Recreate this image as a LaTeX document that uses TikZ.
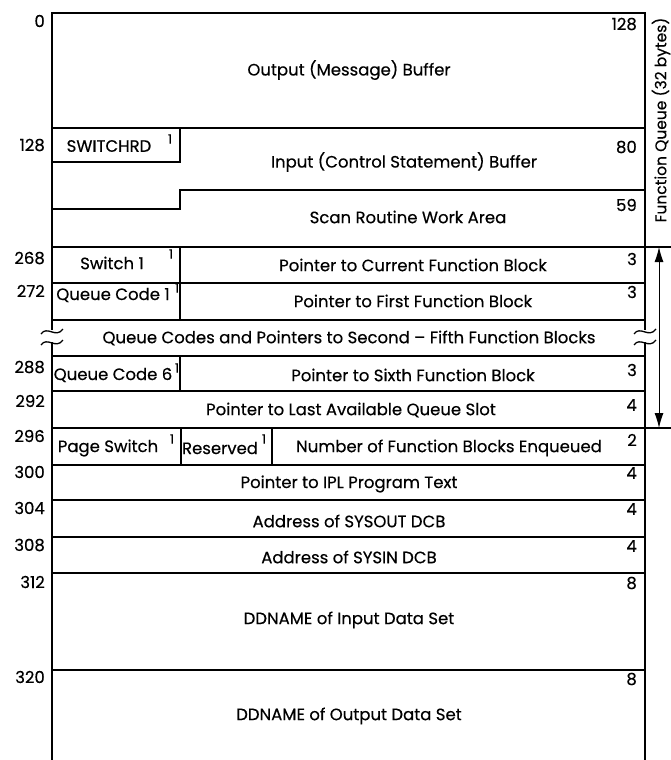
\documentclass[tikz,border=0pt]{standalone}
\usepackage{fontspec}
\setmainfont{Poppins}[FakeBold=0.4]
\usetikzlibrary{arrows.meta}
\begin{document}
\begin{tikzpicture}[x=1pt,y=-1pt,
  frame/.style={line width=1.7pt},
  inner/.style={line width=1.3pt},
  lbl/.style={font=\fontsize{16.5}{18}\selectfont, inner sep=0pt},
  off/.style={lbl, anchor=east},
  cnt/.style={lbl, anchor=east},
  supone/.style={font=\fontsize{13}{14}\selectfont, inner sep=0pt},
  tilde/.style={line width=1.3pt}
  ]
\useasboundingbox (0,0) rectangle (671,760);
\fill[white] (0,0) rectangle (671,760);
% outer frame with break
\draw[frame] (52,330) -- (52,13) -- (645,13) -- (645,330);
\draw[frame] (52,342) -- (52,760);
\draw[frame] (645,342) -- (645,760);
% break tildes
\draw[tilde] (41,334) .. controls (47,325) and (56,339) .. (63,329);
\draw[tilde] (41,345) .. controls (47,336) and (56,350) .. (63,340);
\draw[tilde] (634,334) .. controls (640,325) and (649,339) .. (656,329);
\draw[tilde] (634,345) .. controls (640,336) and (649,350) .. (656,340);
% horizontal rules and dividers
\draw[inner] (52,128) -- (645,128);
\draw[inner] (180,128) -- (180,162) -- (52,162);
\draw[inner] (52,209) -- (180,209) -- (180,190) -- (645,190);
\draw[inner] (52,247) -- (671,247);
\draw[inner] (180,247) -- (180,320);
\draw[inner] (52,283) -- (645,283);
\draw[inner] (52,320) -- (645,320);
\draw[inner] (52,356) -- (645,356);
\draw[inner] (180,356) -- (180,391);
\draw[inner] (52,391) -- (645,391);
\draw[inner] (52,428) -- (671,428);
\draw[inner] (181,428) -- (181,465);
\draw[inner] (272,428) -- (272,465);
\draw[inner] (52,465) -- (645,465);
\draw[inner] (52,500) -- (645,500);
\draw[inner] (52,537) -- (645,537);
\draw[inner] (52,573) -- (645,573);
\draw[inner] (52,670) -- (645,670);
% function queue
\coordinate (fqtop) at (659,247);
\coordinate (fqbot) at (659,428);
\draw[line width=1pt, {Latex[length=15pt,width=9pt]}-{Latex[length=15pt,width=9pt]}] (fqtop) -- (fqbot);
\node[lbl, font=\fontsize{15.5}{17}\selectfont, rotate=90] (fq) at (661,120) {Function Queue (32 bytes)};
% offsets
\node[off] (o0) at (45,21) {0};
\node[off] (o128) at (45,145) {128};
\node[off] (o268) at (45,258) {268};
\node[off] (o272) at (45,291) {272};
\node[off] (o288) at (45,367) {288};
\node[off] (o292) at (45,401) {292};
\node[off] (o296) at (45,436) {296};
\node[off] (o300) at (45,472) {300};
\node[off] (o304) at (45,508) {304};
\node[off] (o308) at (45,545) {308};
\node[off] (o312) at (45,582) {312};
\node[off] (o320) at (45,677) {320};
% lengths
\node[cnt] (c1) at (637,24) {128};
\node[cnt] (c2) at (637,147) {80};
\node[cnt] (c3) at (637,205) {59};
\node[cnt] (c4) at (637,259) {3};
\node[cnt] (c5) at (637,292) {3};
\node[cnt] (c6) at (637,370) {3};
\node[cnt] (c7) at (637,405) {4};
\node[cnt] (c8) at (637,440) {2};
\node[cnt] (c9) at (637,473) {4};
\node[cnt] (c10) at (637,509) {4};
\node[cnt] (c11) at (637,546) {4};
\node[cnt] (c12) at (637,583) {8};
\node[cnt] (c13) at (637,679) {8};
% field texts
\node[lbl] (t1) at (349,70) {Output (Message) Buffer};
\node[lbl] (sw) at (109,146) {SWITCHRD};
\node[supone] (sws) at (170,139) {1};
\node[lbl] (t2) at (404,162) {Input (Control Statement) Buffer};
\node[lbl] (t3) at (408,217) {Scan Routine Work Area};
\node[lbl] (s1) at (112,263) {Switch 1};
\node[supone] (s1s) at (171,254) {1};
\node[lbl] (t4) at (413,265) {Pointer to Current Function Block};
\node[lbl] (q1) at (113,295) {Queue Code 1};
\node[supone] (q1s) at (177,288) {1};
\node[lbl] (t5) at (413,301) {Pointer to First Function Block};
\node[lbl] (t6) at (349,338) {Queue Codes and Pointers to Second -- Fifth Function Blocks};
\node[lbl] (q6) at (113,375) {Queue Code 6};
\node[supone] (q6s) at (177,368) {1};
\node[lbl] (t7) at (413,375) {Pointer to Sixth Function Block};
\node[lbl] (t8) at (351,410) {Pointer to Last Available Queue Slot};
\node[lbl] (ps) at (108,448) {Page Switch};
\node[supone] (pss) at (172,439) {1};
\node[lbl] (rs) at (220,448) {Reserved};
\node[supone] (rss) at (264,439) {1};
\node[lbl] (t9) at (449,448) {Number of Function Blocks Enqueued};
\node[lbl] (t10) at (349,484) {Pointer to IPL Program Text};
\node[lbl] (t11) at (349,521) {Address of SYSOUT DCB};
\node[lbl] (t12) at (349,557) {Address of SYSIN DCB};
\node[lbl] (t13) at (349,620) {DDNAME of Input Data Set};
\node[lbl] (t14) at (349,716) {DDNAME of Output Data Set};
\end{tikzpicture}
\end{document}
